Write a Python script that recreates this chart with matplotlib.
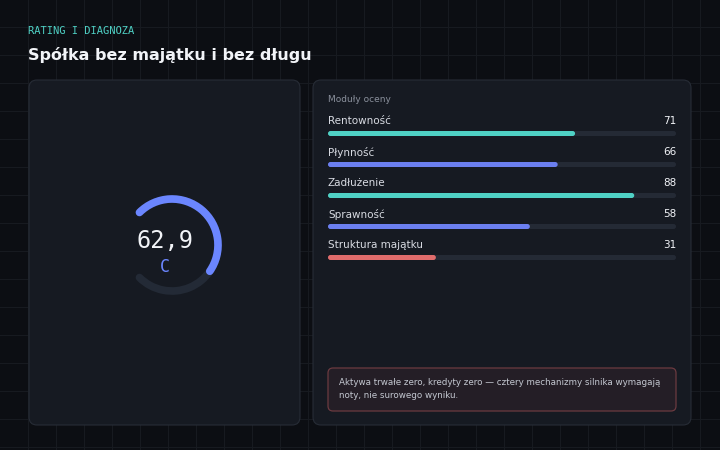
import numpy as np
import matplotlib.pyplot as plt
from matplotlib.patches import FancyBboxPatch, Arc

plt.rcParams['font.family'] = ['DejaVu Sans']

eyebrow = "RATING I DIAGNOZA"
title = "Spółka bez majątku i bez długu"
score = 62.9
grade = "C"
modules = ["Rentowność", "Płynność", "Zadłużenie", "Sprawność", "Struktura majątku"]
values = [71, 66, 88, 58, 31]
colors = ["#4fd1c5", "#6b7ff0", "#4fd1c5", "#6b7ff0", "#e06c6c"]
note = "Aktywa trwałe zero, kredyty zero — cztery mechanizmy silnika wymagają\nnoty, nie surowego wyniku."

BG = "#0c0e13"
CARD = "#161a22"
fig = plt.figure(figsize=(7.2, 4.5), dpi=100, facecolor=BG)
ax = fig.add_axes([0, 0, 1, 1])
ax.set_xlim(0, 720)
ax.set_ylim(450, 0)
ax.axis('off')

# background grid
for g in np.arange(28, 720, 28):
    ax.axvline(g, color="#171a20", lw=0.8, zorder=0)
for g in np.arange(27, 450, 28):
    ax.axhline(g, color="#171a20", lw=0.8, zorder=0)

ax.text(28, 31, eyebrow, color="#4fd1c5", fontsize=7.5, family="DejaVu Sans Mono",
        va='center')
ax.text(28, 55, title, color="#f2f4f8", fontsize=11.5, weight='bold', va='center')

# cards
for x0, w in [(29, 271), (313, 378)]:
    ax.add_patch(FancyBboxPatch((x0, 80), w, 345, boxstyle="round,pad=0,rounding_size=8",
                                fc=CARD, ec="#272c36", lw=0.8, zorder=1))

# gauge (y inverted: data angle increases clockwise on screen)
cx, cy, r = 172, 245, 46
ax.add_patch(Arc((cx, cy), 2 * r, 2 * r, theta1=225, theta2=135, color="#232a36",
                 lw=5.5, zorder=2, capstyle='round'))
sweep = 270 * score / 100
ax.add_patch(Arc((cx, cy), 2 * r, 2 * r, theta1=225, theta2=(225 + sweep) % 360,
                 color="#6b86ff", lw=5.5, zorder=3, capstyle='round'))
ax.text(cx - 7, cy - 4, f"{score:.1f}".replace('.', ','), color="#f2f4f8", fontsize=17,
        family="DejaVu Sans Mono", ha='center', va='center', zorder=4)
ax.text(cx - 7, cy + 22, grade, color="#6b86ff", fontsize=12, family="DejaVu Sans Mono",
        ha='center', va='center', zorder=4)

# modules
ax.text(328, 100, "Moduły oceny", color="#8a909c", fontsize=6.5, va='center', zorder=4)
x0, x1 = 328, 676
for i, (m, v, c) in enumerate(zip(modules, values, colors)):
    y = 121 + i * 31
    ax.text(x0, y, m, color="#d8dbe2", fontsize=7.5, va='center', zorder=4)
    ax.text(x1, y, str(v), color="#f2f4f8", fontsize=7.5, ha='right', va='center', zorder=4)
    ax.add_patch(FancyBboxPatch((x0, y + 10), x1 - x0, 5, boxstyle="round,pad=0,rounding_size=2.5",
                                fc="#242a35", ec='none', zorder=3))
    ax.add_patch(FancyBboxPatch((x0, y + 10), (x1 - x0) * v / 100, 5,
                                boxstyle="round,pad=0,rounding_size=2.5", fc=c, ec='none', zorder=4))

# note
ax.add_patch(FancyBboxPatch((328, 368), 348, 43, boxstyle="round,pad=0,rounding_size=5",
                            fc="#241e26", ec="#6b3a40", lw=0.9, zorder=3))
ax.text(339, 389, note, color="#c3c7d0", fontsize=6.3, va='center', linespacing=1.6, zorder=4)

fig.savefig("out.png", dpi=100, facecolor=BG)
